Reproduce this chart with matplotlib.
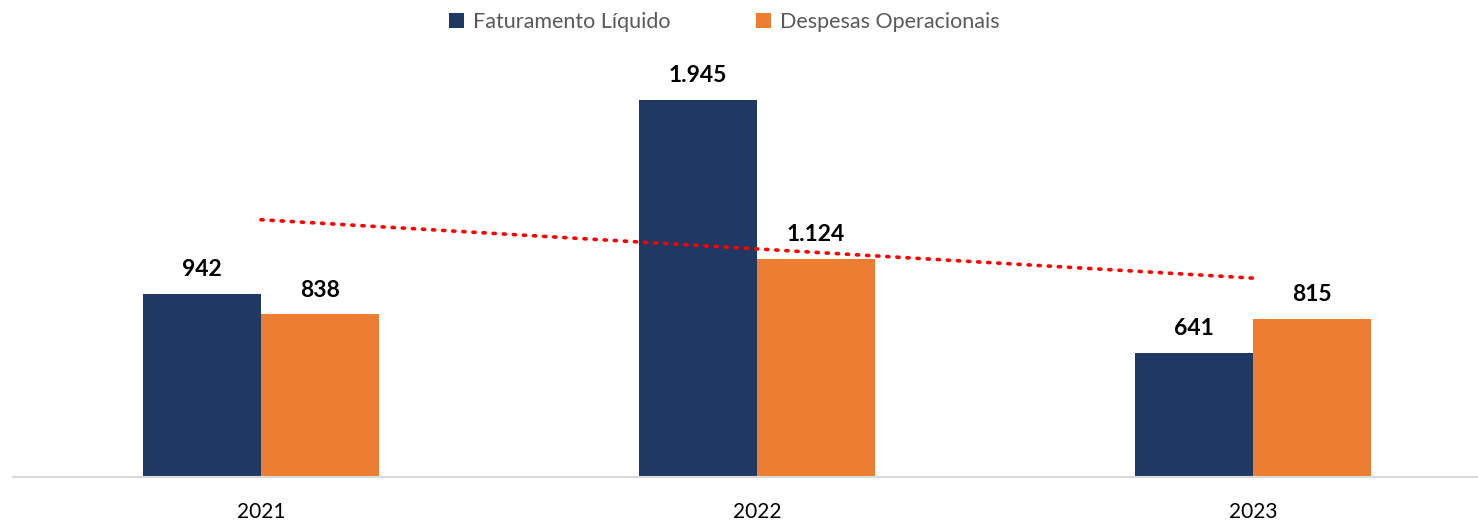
import numpy as np
import matplotlib.pyplot as plt

plt.rcParams['font.family'] = ['Lato', 'DejaVu Sans']

anos = ['2021', '2022', '2023']
faturamento = [942, 1945, 641]
despesas = [838, 1124, 815]
series_nomes = ['Faturamento Líquido', 'Despesas Operacionais']
cores = ['#203864', '#ED7D31']


def fmt(v):
    return f'{v:,}'.replace(',', '.')


fig = plt.figure(figsize=(14.78, 5.2), dpi=100)
ax = fig.add_axes([13 / 1478, 43 / 520, 1 - 13 / 1478, 1 - 43 / 520 - 60 / 520])

x = np.arange(len(anos))
w = 0.238
b1 = ax.bar(x - w / 2, faturamento, w, color=cores[0], label=series_nomes[0])
b2 = ax.bar(x + w / 2, despesas, w, color=cores[1], label=series_nomes[1])

for bars in (b1, b2):
    for r in bars:
        ax.annotate(fmt(int(r.get_height())), (r.get_x() + r.get_width() / 2, r.get_height()),
                    xytext=(0, 10), textcoords='offset points', ha='center', va='bottom',
                    fontsize=16.5, fontweight='bold', color='black')

# linha de tendencia linear do faturamento
coef = np.polyfit(x, faturamento, 1)
ax.plot(x, np.polyval(coef, x), color='#FF0000', lw=2.6, linestyle=(0, (0.6, 2.2)),
        dash_capstyle='round', zorder=3)

ax.set_xlim(-0.5, 2.454)
ax.set_ylim(0, 2150)
ax.set_xticks(x)
ax.set_xticklabels(anos, fontsize=15, color='black')
ax.tick_params(axis='x', length=0, pad=18)
ax.set_yticks([])
for s in ['top', 'right', 'left']:
    ax.spines[s].set_visible(False)
ax.spines['bottom'].set_color('#D9D9D9')
ax.spines['bottom'].set_linewidth(1.5)

fig.legend(loc='center', bbox_to_anchor=(0.490, 1 - 22 / 520), ncol=2, frameon=False,
           fontsize=15.5, labelcolor='#595959', handlelength=0.7, handleheight=0.7,
           handletextpad=0.4, columnspacing=4.0)

fig.savefig('out.png', dpi=100)
